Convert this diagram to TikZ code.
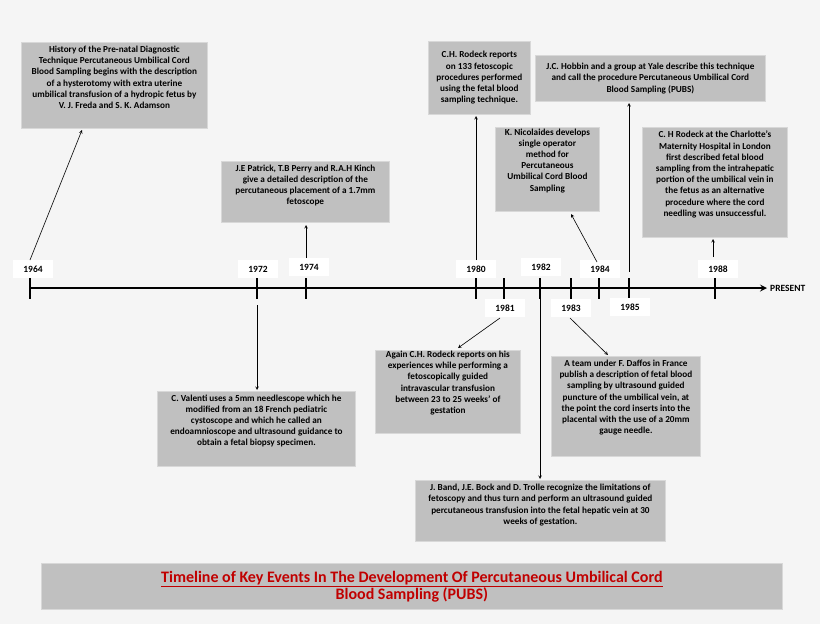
\documentclass[tikz,border=0pt]{standalone}
\usepackage{fontspec}
\setmainfont{Carlito}
\hyphenpenalty=10000
\exhyphenpenalty=10000
\begin{document}
\begin{tikzpicture}[x=1pt,y=-1pt,
  ev/.style 2 args={fill=boxgray,draw=boxedge,line width=0.8pt,align=center,font=\bfseries\fontsize{9.2}{11.2}\selectfont,inner sep=0pt,anchor=north west,minimum width=#1,minimum height=#2},
  yr/.style={fill=white,font=\bfseries\fontsize{9.5}{10}\selectfont,minimum width=40,minimum height=18,inner sep=1pt},
  tk/.style={line width=2pt},
  con/.style={->,>=stealth,line width=0.6pt}]
\definecolor{boxgray}{HTML}{C0C0C0}
\definecolor{boxedge}{HTML}{D8D8D8}
\definecolor{ttl}{HTML}{C00000}
\fill[fill={rgb,255:red,245;green,245;blue,245}] (0,0) rectangle (820,624);
\useasboundingbox (0,0) rectangle (820,624);
% axis
\coordinate (ax0) at (30,288);
\coordinate (ax1) at (767,288);
\draw[line width=2pt,-stealth] (ax0) -- (ax1);
\node[anchor=west,font=\bfseries\fontsize{9.5}{10}\selectfont,inner sep=1pt] (pres) at (769,288) {PRESENT};
\foreach \n/\x in {a/30,b/257,c/306,d/476,e/504,f/540,g/571,h/599,i/629,j/715}{
  \coordinate (t\n) at (\x,288);
  \draw[tk] (\x,278) -- (\x,299);}
% year labels
\node[yr] (y64) at (33,269) {1964};
\node[yr] (y72) at (258,269) {1972};
\node[yr] (y74) at (309,267) {1974};
\node[yr] (y80) at (476,269) {1980};
\node[yr] (y82) at (541,267) {1982};
\node[yr] (y84) at (600,269) {1984};
\node[yr] (y88) at (718,269) {1988};
\node[yr] (y81) at (505,308) {1981};
\node[yr] (y83) at (571,308) {1983};
\node[yr] (y85) at (630,307) {1985};
% events
\node[ev={186}{86}] (e64) at (21,42) {History of the Pre-natal Diagnostic\\Technique Percutaneous Umbilical Cord\\Blood Sampling begins with the description\\of a hysterotomy with extra uterine\\umbilical transfusion of a hydropic fetus by\\V. J. Freda and S. K. Adamson\\[5pt]};
\node[ev={168}{61}] (e74) at (221,161) {J.E Patrick, T.B Perry and R.A.H Kinch\\give a detailed description of the\\percutaneous placement of a 1.7mm\\fetoscope\\[3pt]};
\node[ev={102}{73}] (e80) at (428,41) {C.H. Rodeck reports\\on 133 fetoscopic\\procedures performed\\using the fetal blood\\sampling technique.};
\node[ev={230}{46}] (e85) at (535,55) {J.C. Hobbin and a group at Yale describe this technique\\and call the procedure Percutaneous Umbilical Cord\\Blood Sampling (PUBS)};
\node[ev={104}{84}] (e84) at (495,127) {K. Nicolaides develops\\single operator\\method for\\Percutaneous\\Umbilical Cord Blood\\Sampling\\[8pt]};
\node[ev={145}{110}] (e88) at (642,127) {C. H Rodeck at the Charlotte's\\Maternity Hospital in London\\first described fetal blood\\sampling from the intrahepatic\\portion of the umbilical vein in\\the fetus as an alternative\\procedure where the cord\\needling was unsuccessful.\\[6pt]};
\node[ev={198}{75}] (e72) at (157,391) {C. Valenti uses a 5mm needlescope which he\\modified from an 18 French pediatric\\cystoscope and which he called an\\endoamnioscope and ultrasound guidance to\\obtain a fetal biopsy specimen.\\[6pt]};
\node[ev={145}{83}] (e81) at (375,350) {Again C.H. Rodeck reports on his\\experiences while performing a\\fetoscopically guided\\intravascular transfusion\\between 23 to 25 weeks' of\\gestation\\[8pt]};
\node[ev={149}{100}] (e83) at (551,356) {A team under F. Daffos in France\\publish a description of fetal blood\\sampling by ultrasound guided\\puncture of the umbilical vein, at\\the point the cord inserts into the\\placental with the use of a 20mm\\gauge needle.\\[8pt]};
\node[ev={250}{61}] (e82) at (415,480) {J. Band, J.E. Bock and D. Trolle recognize the limitations of\\fetoscopy and thus turn and perform an ultrasound guided\\percutaneous transfusion into the fetal hepatic vein at 30\\weeks of gestation.\\[2pt]};
% connector end coordinates
\coordinate (s64) at (30,260);   \coordinate (d64) at (82,130);
\coordinate (s74) at (306,258);  \coordinate (d74) at (306,225);
\coordinate (s80) at (476,260);  \coordinate (d80) at (476,116);
\coordinate (s85) at (629,272);  \coordinate (d85) at (629,103);
\coordinate (s84) at (597,262);  \coordinate (d84) at (571,214);
\coordinate (s88) at (713,257);  \coordinate (d88) at (713,239);
\coordinate (s72) at (257,305);  \coordinate (d72) at (257,390);
\coordinate (s81) at (500,318);  \coordinate (d81) at (458,348);
\coordinate (s83) at (570,318);  \coordinate (d83) at (608,355);
\coordinate (s82) at (540,292);  \coordinate (d82) at (540,479);
\foreach \k in {64,74,80,85,84,88,72,81,83,82}{\draw[con] (s\k) -- (d\k);}
% title
\node[fill=boxgray,draw=boxedge,line width=0.8pt,minimum width=741,minimum height=46,anchor=north west,align=center,text=ttl,font=\bfseries\fontsize{16}{17}\selectfont] (title) at (41,563) {\underline{Timeline of Key Events In The Development Of Percutaneous Umbilical Cord}\\Blood Sampling (PUBS)};
\end{tikzpicture}
\end{document}
